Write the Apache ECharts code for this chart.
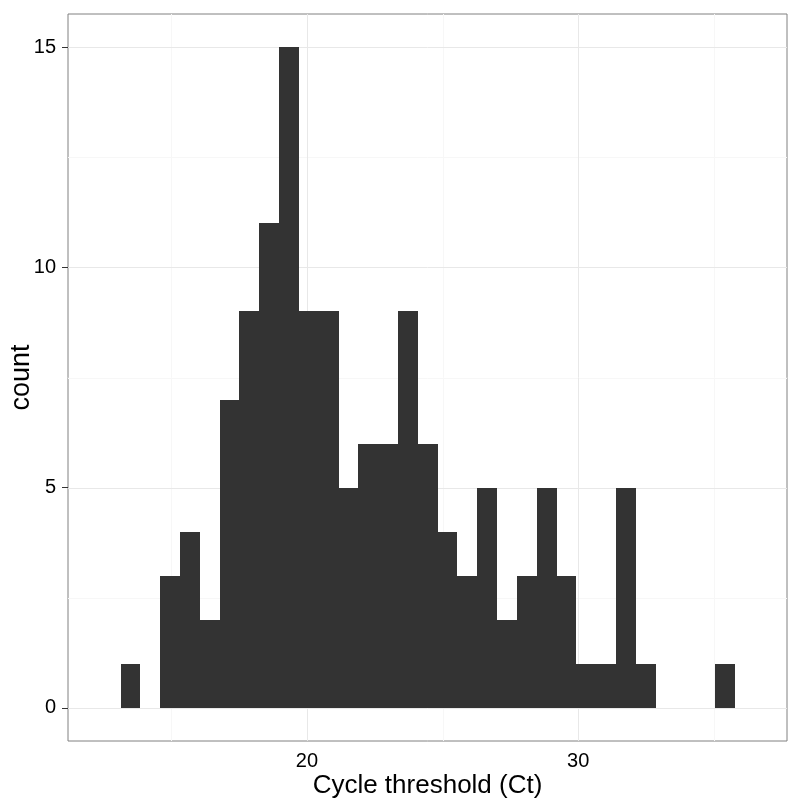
<!DOCTYPE html>
<html>
<head>
<meta charset="utf-8">
<script src="https://cdn.jsdelivr.net/npm/echarts@6/dist/echarts.min.js"></script>
<style>
html,body{margin:0;padding:0;background:#fff;}
#chart{width:800px;height:806px;}
</style>
</head>
<body>
<div id="chart"></div>
<script>
// Histogram bins (Cycle threshold, Ct)
const binStart = 13.127;
const binWidth = 0.7307;
const counts = [1,0,3,4,2,7,9,11,15,9,9,5,6,6,9,6,4,3,5,2,3,5,3,1,1,5,1,0,0,0,1];

// Axis ticks and grid lines
const xTicks = [20, 30];
const yTicks = [0, 5, 10, 15];
const xMinorLines = [15, 25, 35];
const yMinorLines = [2.5, 7.5, 12.5];
const xRange = [11.19, 37.70];
const yRange = [-0.75, 15.75];

const xTitle = 'Cycle threshold (Ct)';
const yTitle = 'count';

const barData = counts.map((c, i) => [binStart + i * binWidth, binStart + (i + 1) * binWidth, c]);

const FONT = 'Liberation Sans, Arial, Helvetica, sans-serif';

function vLines(color) {
  return function (params, api) {
    const cs = params.coordSys;
    const p = api.coord([api.value(0), yRange[0]]);
    const x = Math.round(p[0]) + 0.5;
    return {
      type: 'line',
      shape: { x1: x, y1: cs.y, x2: x, y2: cs.y + cs.height },
      style: { stroke: color, lineWidth: 1 }
    };
  };
}
function hLines(color) {
  return function (params, api) {
    const cs = params.coordSys;
    const p = api.coord([xRange[0], api.value(0)]);
    const y = Math.round(p[1]) + 0.5;
    return {
      type: 'line',
      shape: { x1: cs.x, y1: y, x2: cs.x + cs.width, y2: y },
      style: { stroke: color, lineWidth: 1 }
    };
  };
}

const chart = echarts.init(document.getElementById('chart'), null, { renderer: 'canvas' });
chart.setOption({
  backgroundColor: '#ffffff',
  animation: false,
  grid: {
    left: 68, top: 14, right: 13, bottom: 65,
    outerBoundsMode: 'none',
    show: true, borderColor: '#808080', borderWidth: 1, backgroundColor: '#ffffff',
    containLabel: false
  },
  xAxis: {
    type: 'value',
    min: xRange[0], max: xRange[1],
    name: xTitle, nameLocation: 'middle', nameGap: 32, nameMoveOverlap: false,
    nameTextStyle: { fontFamily: FONT, fontSize: 26, color: '#000' },
    axisLine: { show: false },
    axisTick: { show: true, customValues: xTicks, length: 5, inside: false, lineStyle: { color: '#333', width: 1 } },
    axisLabel: { customValues: xTicks, fontFamily: FONT, fontSize: 20, color: '#000', margin: 10 },
    splitLine: { show: false }
  },
  yAxis: {
    type: 'value',
    min: yRange[0], max: yRange[1],
    name: yTitle, nameLocation: 'middle', nameGap: 33, nameRotate: 90, nameMoveOverlap: false,
    nameTextStyle: { fontFamily: FONT, fontSize: 27, color: '#000' },
    axisLine: { show: false },
    axisTick: { show: true, customValues: yTicks, length: 6, inside: false, lineStyle: { color: '#333', width: 1 } },
    axisLabel: { customValues: yTicks, fontFamily: FONT, fontSize: 20, color: '#000', margin: 12 },
    splitLine: { show: false }
  },
  series: [
    { type: 'custom', name: 'xminor', silent: true, z: 1, data: xMinorLines.map(v => [v, 0]), renderItem: vLines('#f7f7f7') },
    { type: 'custom', name: 'yminor', silent: true, z: 1, data: yMinorLines.map(v => [v, 0]), renderItem: hLines('#f7f7f7') },
    { type: 'custom', name: 'xmajor', silent: true, z: 2, data: xTicks.map(v => [v, 0]), renderItem: vLines('#e8e8e8') },
    { type: 'custom', name: 'ymajor', silent: true, z: 2, data: yTicks.map(v => [v, 0]), renderItem: hLines('#e8e8e8') },
    {
      type: 'custom', name: 'count', z: 5,
      data: barData,
      encode: { x: [0, 1], y: 2 },
      renderItem: function (params, api) {
        const p0 = api.coord([api.value(0), api.value(2)]);
        const p1 = api.coord([api.value(1), 0]);
        const x0 = Math.round(p0[0]), x1 = Math.round(p1[0]);
        const y0 = Math.round(p0[1]), y1 = Math.round(p1[1]);
        return {
          type: 'rect',
          shape: { x: x0, y: y0, width: x1 - x0, height: y1 - y0 },
          style: { fill: '#333333' }
        };
      }
    }
  ]
});
</script>
</body>
</html>
